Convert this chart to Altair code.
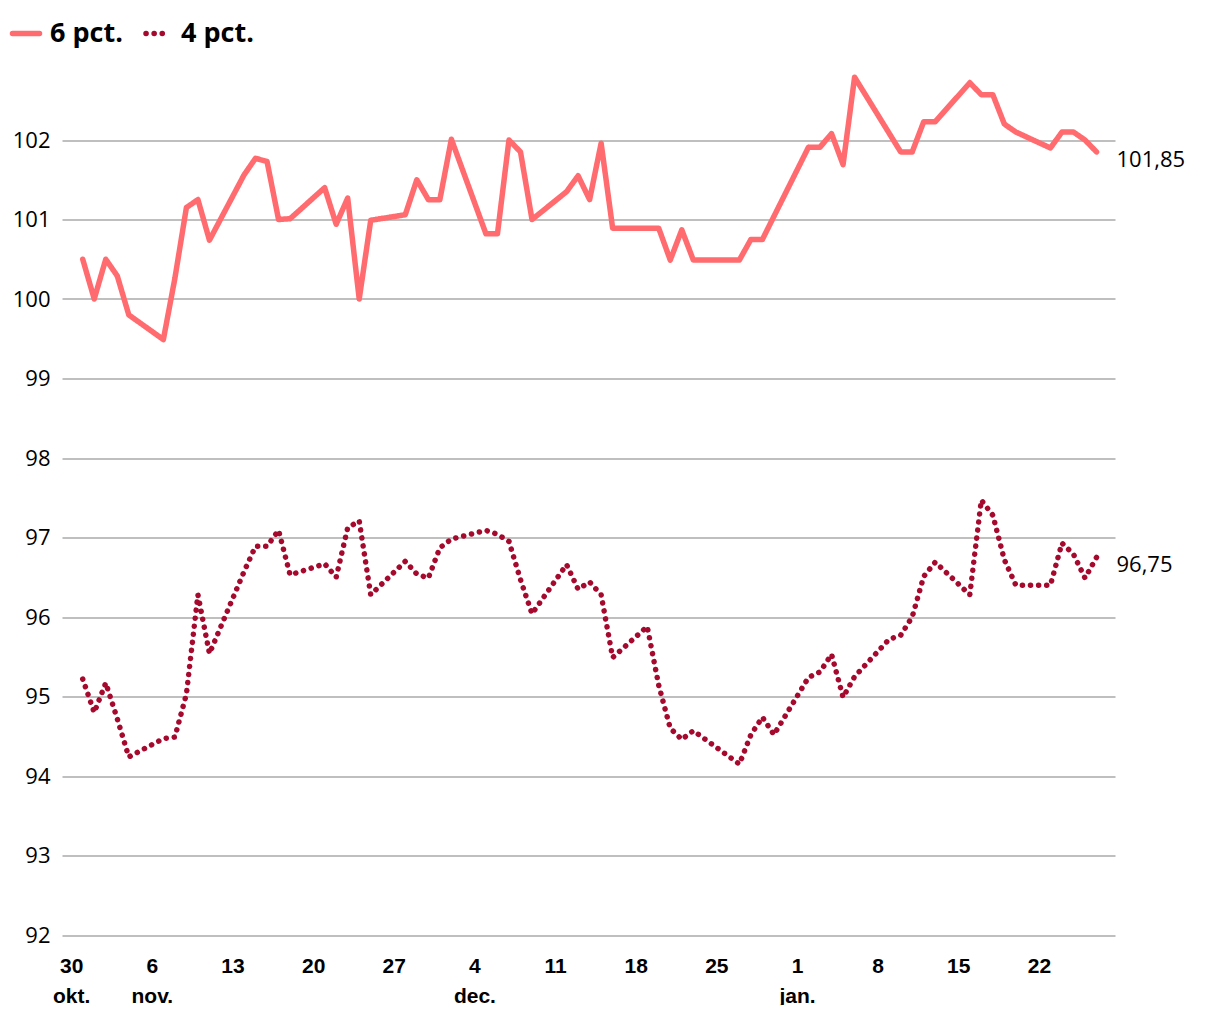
import altair as alt
import pandas as pd

series_names = ["6 pct.", "4 pct."]
series_colors = ["#FF6B6E", "#A50A2E"]

dates_6 = [
    "2022-10-31", "2022-11-01", "2022-11-02", "2022-11-03", "2022-11-04",
    "2022-11-07", "2022-11-08", "2022-11-09", "2022-11-10", "2022-11-11",
    "2022-11-14", "2022-11-15", "2022-11-16", "2022-11-17", "2022-11-18",
    "2022-11-21", "2022-11-22", "2022-11-23", "2022-11-24", "2022-11-25",
    "2022-11-28", "2022-11-29", "2022-11-30", "2022-12-01", "2022-12-02",
    "2022-12-05", "2022-12-06", "2022-12-07", "2022-12-08", "2022-12-09",
    "2022-12-12", "2022-12-13", "2022-12-14", "2022-12-15", "2022-12-16",
    "2022-12-19", "2022-12-20", "2022-12-21", "2022-12-22", "2022-12-23",
    "2022-12-27", "2022-12-28", "2022-12-29",
    "2023-01-02", "2023-01-03", "2023-01-04", "2023-01-05", "2023-01-06",
    "2023-01-10", "2023-01-11", "2023-01-12", "2023-01-13",
    "2023-01-16", "2023-01-17", "2023-01-18", "2023-01-19", "2023-01-20",
    "2023-01-23", "2023-01-24", "2023-01-25", "2023-01-26", "2023-01-27",
]
vals_6 = [
    100.50, 100.00, 100.50, 100.29, 99.80,
    99.49, 100.26, 101.15, 101.25, 100.74,
    101.56, 101.77, 101.73, 101.00, 101.01,
    101.40, 100.94, 101.27, 100.00, 100.99,
    101.06, 101.50, 101.25, 101.25, 102.01,
    100.82, 100.82, 102.00, 101.85, 101.00,
    101.35, 101.55, 101.25, 101.96, 100.89,
    100.89, 100.89, 100.49, 100.87, 100.49,
    100.49, 100.75, 100.75,
    101.91, 101.91, 102.08, 101.69, 102.79,
    101.85, 101.85, 102.23, 102.23,
    102.72, 102.57, 102.57, 102.20, 102.10,
    101.90, 102.10, 102.10, 102.00, 101.85,
]

dates_4 = [
    "2022-10-31", "2022-11-01", "2022-11-02", "2022-11-03", "2022-11-04",
    "2022-11-07", "2022-11-08", "2022-11-09", "2022-11-10", "2022-11-11",
    "2022-11-14", "2022-11-15", "2022-11-16", "2022-11-17", "2022-11-18",
    "2022-11-21", "2022-11-22", "2022-11-23", "2022-11-24", "2022-11-25",
    "2022-11-28", "2022-11-29", "2022-11-30", "2022-12-01", "2022-12-02",
    "2022-12-05", "2022-12-06", "2022-12-07", "2022-12-08", "2022-12-09",
    "2022-12-12", "2022-12-13", "2022-12-14", "2022-12-15", "2022-12-16",
    "2022-12-19", "2022-12-20", "2022-12-21", "2022-12-22", "2022-12-23",
    "2022-12-27", "2022-12-28", "2022-12-29", "2022-12-30",
    "2023-01-02", "2023-01-03", "2023-01-04", "2023-01-05", "2023-01-06",
    "2023-01-09", "2023-01-10", "2023-01-11", "2023-01-12", "2023-01-13",
    "2023-01-16", "2023-01-17", "2023-01-18", "2023-01-19", "2023-01-20",
    "2023-01-23", "2023-01-24", "2023-01-25", "2023-01-26", "2023-01-27",
]
vals_4 = [
    95.22, 94.80, 95.17, 94.72, 94.24,
    94.47, 94.49, 95.03, 96.28, 95.54,
    96.57, 96.89, 96.89, 97.09, 96.53,
    96.67, 96.50, 97.12, 97.21, 96.28,
    96.70, 96.54, 96.49, 96.87, 96.98,
    97.09, 97.04, 96.95, 96.47, 96.04,
    96.66, 96.35, 96.44, 96.28, 95.49,
    95.88, 95.14, 94.60, 94.46, 94.57,
    94.15, 94.52, 94.74, 94.52,
    95.24, 95.31, 95.53, 94.99, 95.25,
    95.72, 95.77, 96.00, 96.51, 96.69,
    96.28, 97.47, 97.28, 96.72, 96.40,
    96.40, 96.93, 96.79, 96.49, 96.75,
]

y_ticks = list(range(92, 103))
y_domain = [92, 103]

tick_dates = ["2022-10-30", "2022-11-06", "2022-11-13", "2022-11-20", "2022-11-27",
              "2022-12-04", "2022-12-11", "2022-12-18", "2022-12-25", "2023-01-01",
              "2023-01-08", "2023-01-15", "2023-01-22"]
tick_top = ["30", "6", "13", "20", "27", "4", "11", "18", "25", "1", "8", "15", "22"]
tick_bottom = ["okt.", "nov.", "", "", "", "dec.", "", "", "", "jan.", "", "", ""]

series_dash = [[1, 0], [0.1, 8]]

# ---- build tables ----
df = pd.concat([
    pd.DataFrame({"dato": dates_6, "kurs": vals_6, "serie": series_names[0]}),
    pd.DataFrame({"dato": dates_4, "kurs": vals_4, "serie": series_names[1]}),
], ignore_index=True)

last = df.groupby("serie", sort=False).tail(1).copy()
last["label"] = last["kurs"].map(lambda v: f"{v:.2f}".replace(".", ","))

label_expr = "''"
for d, t, b in reversed(list(zip(tick_dates, tick_top, tick_bottom))):
    label_expr = f"utcFormat(datum.value, '%Y-%m-%d') == '{d}' ? ['{t}', '{b}'] : {label_expr}"


def dt(s, h=0, m=0):
    ts = pd.Timestamp(s)
    return alt.DateTime(year=ts.year, month=ts.month, date=ts.day, hours=h, minutes=m, utc=True)


x_scale = alt.Scale(type="utc", domain=[dt("2022-10-29", 4, 50), dt("2023-01-28", 14, 30)])
y_scale = alt.Scale(domain=y_domain, nice=False, zero=False)

x_enc = alt.X(
    "dato:T", scale=x_scale, title=None,
    axis=alt.Axis(
        values=[dt(d) for d in tick_dates], labelExpr=label_expr,
        grid=False, ticks=False, domain=False,
        labelFont="Liberation Sans", labelFontWeight="bold", labelFontSize=21,
        labelColor="#000000", labelPadding=20, labelLineHeight=30,
        labelBaseline="top", labelAlign="center", labelOverlap=False, labelFlush=False,
    ),
)
y_enc = alt.Y(
    "kurs:Q", scale=y_scale, title=None,
    axis=alt.Axis(
        values=y_ticks, format="d", grid=True, gridColor="#BFBFBF", gridWidth=2,
        ticks=False, domain=False, labelFont="Open Sans", labelFontSize=22,
        labelColor="#000000", labelPadding=12,
    ),
)

lines = alt.Chart(df).mark_line(strokeWidth=5.5, strokeCap="round", strokeJoin="round").encode(
    x=x_enc,
    y=y_enc,
    color=alt.Color("serie:N", scale=alt.Scale(domain=series_names, range=series_colors), legend=None),
    strokeDash=alt.StrokeDash("serie:N", scale=alt.Scale(domain=series_names, range=series_dash), legend=None),
)

labels = alt.Chart(last).mark_text(
    align="left", baseline="middle", dx=20, dy=8,
    font="Open Sans", fontSize=22, color="#000000",
).encode(
    x=alt.X("dato:T", scale=x_scale),
    y=alt.Y("kurs:Q", scale=y_scale),
    text="label:N",
)

# ---- manual legend (above the plot, positions in pixels relative to plot area) ----
legend_y = -27
leg_layers = []
leg_sym = [(-49.5, -22.5), (84, 102)]
leg_txt_x = [-12, 119]
for name, col, dash, (x0, x1), tx in zip(series_names, series_colors, series_dash, leg_sym, leg_txt_x):
    leg_layers.append(
        alt.Chart(pd.DataFrame({"serie": [name]})).mark_rule(
            color=col, strokeWidth=5.5, strokeCap="round", strokeDash=dash
        ).encode(x=alt.value(x0), x2=alt.value(x1), y=alt.value(legend_y))
    )
    leg_layers.append(
        alt.Chart(pd.DataFrame({"serie": [name]})).mark_text(
            align="left", baseline="middle", font="Open Sans", fontWeight="bold",
            fontSize=27, color="#000000",
        ).encode(x=alt.value(tx), y=alt.value(legend_y), text="serie:N")
    )

chart = alt.layer(lines, labels, *leg_layers).properties(
    width=1053, height=874.5,
    background="#ffffff",
    autosize=alt.AutoSizeParams(type="none"),
    padding={"left": 54, "top": 52.5, "right": 95, "bottom": 70},
).configure_view(strokeWidth=0, stroke=None)

chart.save("out.html", embed_options={"renderer": "svg", "actions": False})
